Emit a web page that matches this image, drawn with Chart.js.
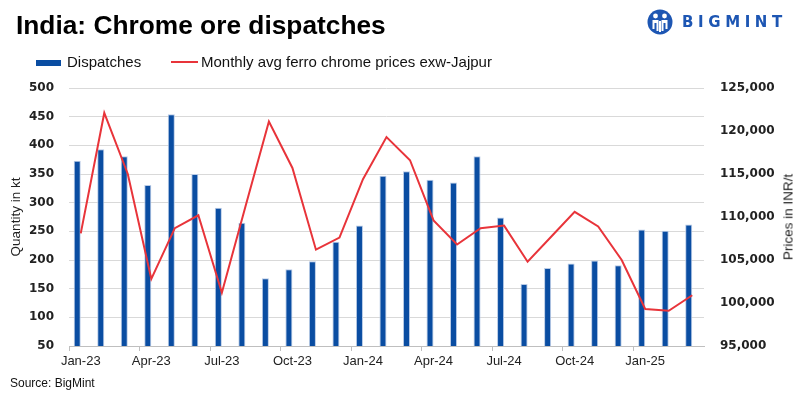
<!DOCTYPE html>
<html>
<head>
<meta charset="utf-8">
<script src="https://cdn.jsdelivr.net/npm/chart.js@4.4.1/dist/chart.umd.min.js"></script>
<style>
  html, body { margin: 0; padding: 0; background: #fff; }
  body { width: 800px; height: 399px; position: relative; overflow: hidden;
         font-family: "Liberation Sans", Arial, sans-serif; color: #000; }
  #wrap { position: absolute; left: 0; top: 0; width: 800px; height: 399px; }
  .title { position: absolute; left: 16px; top: 10px; font-size: 26.3px; font-weight: bold; white-space: nowrap; }
  .lg { position: absolute; font-size: 15px; white-space: nowrap; color: #111; }
  .sw-bar { position: absolute; left: 36px; top: 60px; width: 25px; height: 6px; background: #0a4da2; }
  .sw-line { position: absolute; left: 171px; top: 61px; width: 27px; height: 2px; background: #e8343a; }
  .source { position: absolute; left: 10px; top: 376px; font-size: 12px; color: #111; }
  .ytitle2 { position: absolute; left: 788px; top: 217px; font-size: 13.5px; color: #222; white-space: nowrap;
             transform: translate(-50%, -50%) rotate(-90deg); }
  .logo { position: absolute; left: 647px; top: 9px; display: flex; align-items: center; }
  .logo span { font-family: "DejaVu Sans", sans-serif; font-weight: bold; font-size: 15px; letter-spacing: 4.6px;
               color: #1d56b3; margin-left: 9px; }
</style>
</head>
<body>
<div id="wrap"><canvas id="chart" width="800" height="399"></canvas></div>
<div class="title">India: Chrome ore dispatches</div>
<div class="logo">
  <svg width="26" height="26" viewBox="0 0 26 26">
    <circle cx="13" cy="13" r="12.5" fill="#1d56b3"/>
    <circle cx="8.5" cy="7" r="2.4" fill="#fff"/>
    <circle cx="17.5" cy="7" r="2.4" fill="#fff"/>
    <path d="M5.5 11 h6 v11 h-2 v-8 h-2 v6 h-2 z" fill="#fff"/>
    <path d="M14.5 11 h6 v9 h-2 v-6 h-2 v8 h-2 z" fill="#fff"/>
    <rect x="12" y="12" width="2" height="11" fill="#fff"/>
  </svg>
  <span>BIGMINT</span>
</div>
<div class="sw-bar"></div><div class="lg" style="left:67px;top:53px">Dispatches</div>
<div class="sw-line"></div><div class="lg" style="left:201px;top:53px">Monthly avg ferro chrome prices exw-Jajpur</div>
<div class="ytitle2">Prices in INR/t</div>
<div class="source">Source: BigMint</div>

<script>
const months = ["Jan-23","Feb-23","Mar-23","Apr-23","May-23","Jun-23","Jul-23","Aug-23","Sep-23","Oct-23","Nov-23","Dec-23",
                "Jan-24","Feb-24","Mar-24","Apr-24","May-24","Jun-24","Jul-24","Aug-24","Sep-24","Oct-24","Nov-24","Dec-24",
                "Jan-25","Feb-25","Mar-25"];
// dispatches in kt
const dispatches = [373, 393, 381, 331, 454, 350, 291, 265, 168, 184, 198, 232,
                    260, 347, 355, 340, 335, 381, 274, 158, 186, 194, 199, 191,
                    253, 251, 262];
// ferro chrome price, INR/t
const prices = [108100, 122100, 115000, 102800, 108700, 110200, 101200, 111200, 121100, 115700, 106200, 107600,
                114400, 119300, 116600, 109600, 106800, 108700, 109000, 104800, 107700, 110600, 108900, 105000,
                99300, 99100, 100900];
const spacer = months.map(() => null);

const sans = '"Liberation Sans", Arial, sans-serif';
const wide = '"DejaVu Sans", sans-serif';

new Chart(document.getElementById("chart"), {
  data: {
    labels: months,
    datasets: [
      {
        type: "line", label: "Monthly avg ferro chrome prices exw-Jajpur", data: prices, yAxisID: "y1",
        borderColor: "#e8343a", borderWidth: 2, pointRadius: 0, tension: 0, order: 0
      },
      {
        type: "bar", label: "Dispatches", data: dispatches, yAxisID: "y",
        backgroundColor: "#0a4da2", borderColor: "#b9cbe6", borderWidth: 1,
        categoryPercentage: 0.6, barPercentage: 1.0, order: 1
      },
      {
        type: "bar", label: "", data: spacer, yAxisID: "y",
        categoryPercentage: 0.6, barPercentage: 1.0, order: 2
      }
    ]
  },
  options: {
    responsive: false,
    animation: false,
    layout: { padding: { top: 88, left: 8, right: 8, bottom: 22 } },
    plugins: { legend: { display: false }, tooltip: { enabled: false } },
    scales: {
      x: {
        grid: {
          offset: true, drawOnChartArea: false, tickLength: 5,
          color: ctx => (ctx.index % 3 === 0 ? "#bfbfbf" : "rgba(0,0,0,0)")
        },
        border: { color: "#bfbfbf" },
        ticks: {
          autoSkip: false, maxRotation: 0, padding: 3, color: "#222",
          font: { family: sans, size: 13 },
          callback: (v, i) => (i % 3 === 0 ? months[i] : "")
        },
        afterFit: s => { s.height = 31; }
      },
      y: {
        position: "left", min: 50, max: 500,
        ticks: { stepSize: 50, color: "#222", padding: 15, font: { family: wide, size: 12, weight: "bold" } },
        grid: { color: "#d9d9d9", drawTicks: false },
        border: { display: false },
        title: { display: true, text: "Quantity in kt", color: "#222", padding: 0, font: { family: sans, size: 13.5 } },
        afterFit: s => { s.width = 61; }
      },
      y1: {
        position: "right", min: 95000, max: 125000,
        ticks: { stepSize: 5000, color: "#222", padding: 16, font: { family: wide, size: 12, weight: "bold" },
                 callback: v => v.toLocaleString("en-US") },
        grid: { drawOnChartArea: false, drawTicks: false },
        border: { display: false },
        afterFit: s => { s.width = 88; }
      }
    }
  }
});
</script>
</body>
</html>
